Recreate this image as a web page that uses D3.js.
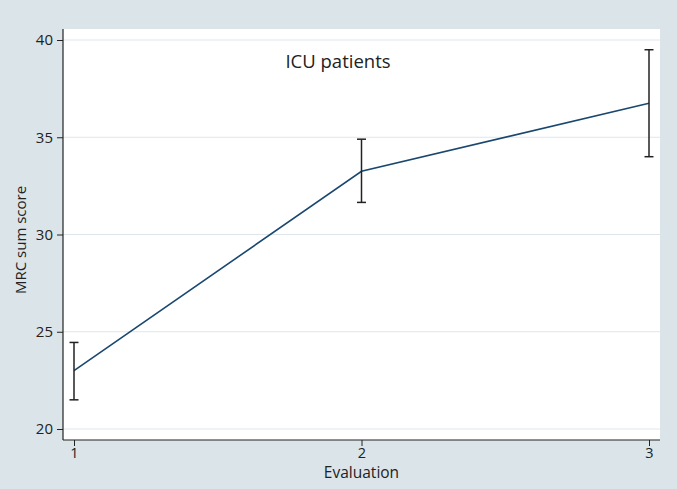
<!DOCTYPE html>
<html>
<head>
<meta charset="utf-8">
<script src="https://cdn.jsdelivr.net/npm/d3@7"></script>
<style>
  body { margin: 0; background: #dbe5e9; }
  svg { display: block; font-family: 'Open Sans', 'Noto Sans', sans-serif; }
</style>
</head>
<body>
<svg id="chart" width="677" height="489"></svg>
<script>
// data
const evaluations = [1, 2, 3]
const means = [23.0, 33.25, 36.75]
const lower = [21.5, 31.65, 34.0]
const upper = [24.45, 34.9, 39.5]
const yTicks = [20, 25, 30, 35, 40]

const svg = d3.select('#chart')
const width = 677
const height = 489
const plot = { left: 63, right: 660, top: 29, bottom: 440 }

svg.append('rect')
  .attr('width', width)
  .attr('height', height)
  .attr('fill', '#dbe5e9')

svg.append('rect')
  .attr('x', plot.left)
  .attr('y', plot.top)
  .attr('width', plot.right - plot.left)
  .attr('height', plot.bottom - plot.top)
  .attr('fill', '#fff')

const x = d3.scaleLinear().domain([1, 3]).range([74, 649])
const y = d3.scaleLinear().domain([20, 40]).range([429, 40])

// gridlines
svg.append('g')
  .selectAll('line')
  .data(yTicks)
  .enter()
  .append('line')
  .attr('x1', plot.left)
  .attr('x2', plot.right)
  .attr('y1', d => y(d))
  .attr('y2', d => y(d))
  .attr('stroke', '#dde7eb')
  .attr('stroke-width', 1)

// axes
const yAxis = svg.append('g')
  .attr('transform', `translate(${plot.left},0)`)
  .call(d3.axisLeft(y).tickValues(yTicks).tickSize(6).tickPadding(4))
yAxis.select('.domain').attr('d', `M0,${plot.top}V${plot.bottom}`)

const xAxis = svg.append('g')
  .attr('transform', `translate(0,${plot.bottom})`)
  .call(d3.axisBottom(x).tickValues(evaluations).tickFormat(d3.format('d')).tickSize(6).tickPadding(2))
xAxis.select('.domain').attr('d', `M${plot.left},0H${plot.right}`)

svg.selectAll('.domain').attr('stroke', '#222').attr('stroke-width', 1.2)
svg.selectAll('.tick line').attr('stroke', '#222')
svg.selectAll('.tick text').attr('font-size', 15).attr('fill', '#222')
  .attr('font-family', "'Open Sans', 'Noto Sans', sans-serif")
xAxis.selectAll('.tick text').attr('font-size', 14.5)

// axis titles
svg.append('text')
  .attr('x', (x(1) + x(3)) / 2)
  .attr('y', 478)
  .attr('text-anchor', 'middle')
  .attr('font-size', 15.5)
  .attr('fill', '#222')
  .text('Evaluation')

svg.append('text')
  .attr('transform', `translate(26,240) rotate(-90)`)
  .attr('text-anchor', 'middle')
  .attr('font-size', 15)
  .attr('fill', '#222')
  .text('MRC sum score')

// title inside plot
svg.append('text')
  .attr('x', 338)
  .attr('y', 68)
  .attr('text-anchor', 'middle')
  .attr('font-size', 18.5)
  .attr('fill', '#222')
  .text('ICU patients')

// mean line
const line = d3.line()
  .x((d, i) => x(evaluations[i]))
  .y(d => y(d))
svg.append('path')
  .datum(means)
  .attr('d', line)
  .attr('fill', 'none')
  .attr('stroke', '#1a476f')
  .attr('stroke-width', 1.6)

// error bars
const bars = svg.append('g')
  .selectAll('g')
  .data(evaluations)
  .enter()
  .append('g')
  .attr('stroke', '#222')
  .attr('stroke-width', 1.5)
bars.append('line')
  .attr('x1', d => x(d))
  .attr('x2', d => x(d))
  .attr('y1', (d, i) => y(lower[i]))
  .attr('y2', (d, i) => y(upper[i]))
bars.append('line')
  .attr('x1', d => x(d) - 4.5)
  .attr('x2', d => x(d) + 4.5)
  .attr('y1', (d, i) => y(lower[i]))
  .attr('y2', (d, i) => y(lower[i]))
bars.append('line')
  .attr('x1', d => x(d) - 4.5)
  .attr('x2', d => x(d) + 4.5)
  .attr('y1', (d, i) => y(upper[i]))
  .attr('y2', (d, i) => y(upper[i]))
</script>
</body>
</html>
